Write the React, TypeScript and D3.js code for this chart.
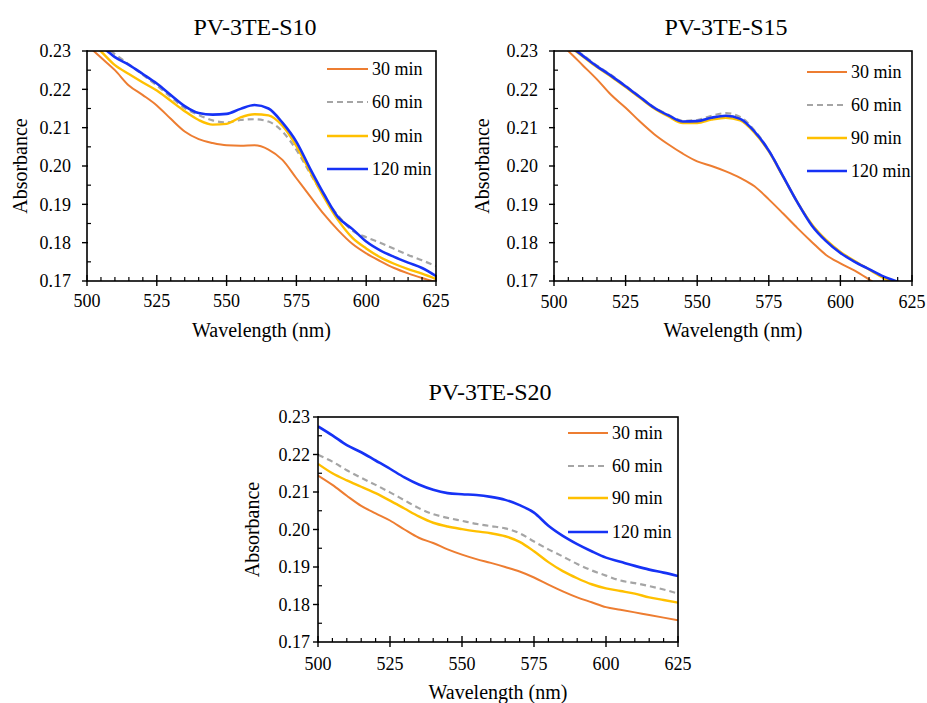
import React from "react";
import * as d3 from "d3";

const wavelengths = [500, 505, 510, 515, 520, 525, 530, 535, 540, 545, 550, 555, 560, 565, 570, 575, 580, 585, 590, 595, 600, 605, 610, 615, 620, 625];
const seriesNames = ["30 min", "60 min", "90 min", "120 min"];
const xTicks = [500, 525, 550, 575, 600, 625];
const yTicks = [0.17, 0.18, 0.19, 0.2, 0.21, 0.22, 0.23];

// PV-3TE-S10
const s10_30 = [0.2316, 0.2283, 0.225, 0.221, 0.2185, 0.2158, 0.2123, 0.209, 0.207, 0.206, 0.2054, 0.2053, 0.2054, 0.2043, 0.2016, 0.1968, 0.192, 0.1873, 0.1832, 0.1797, 0.1772, 0.1752, 0.1734, 0.172, 0.1708, 0.1697];
const s10_60 = [0.235, 0.232, 0.2292, 0.2265, 0.2238, 0.221, 0.218, 0.2151, 0.2133, 0.2119, 0.2114, 0.212, 0.2122, 0.2116, 0.209, 0.2042, 0.198, 0.192, 0.187, 0.1832, 0.1814, 0.18, 0.1784, 0.1768, 0.1754, 0.1739];
const s10_90 = [0.2335, 0.2299, 0.2263, 0.224, 0.2218, 0.2197, 0.217, 0.2143, 0.212, 0.2108, 0.211, 0.2127, 0.2135, 0.2132, 0.2105, 0.2052, 0.1984, 0.1917, 0.1858, 0.1813, 0.1785, 0.1762, 0.1745, 0.1731, 0.1719, 0.1705];
const s10_120 = [0.2345, 0.2314, 0.2284, 0.2264, 0.224, 0.2215, 0.2185, 0.2156, 0.2138, 0.2134, 0.2136, 0.2149, 0.2159, 0.215, 0.2113, 0.2063, 0.1992, 0.1925, 0.1866, 0.1836, 0.1803, 0.178, 0.1763, 0.1748, 0.1734, 0.1713];

// PV-3TE-S15
const s15_30 = [0.2335, 0.23, 0.2263, 0.2226, 0.2185, 0.2152, 0.2116, 0.2083, 0.2056, 0.2032, 0.2012, 0.2, 0.1986, 0.1969, 0.1947, 0.1913, 0.1876, 0.1838, 0.1802, 0.1768, 0.1746, 0.1727, 0.1704, 0.168, 0.166, 0.164];
const s15_60 = [0.2347, 0.2318, 0.229, 0.2262, 0.2237, 0.2209, 0.2181, 0.2153, 0.2133, 0.2118, 0.212, 0.2131, 0.2138, 0.2128, 0.2093, 0.2041, 0.1973, 0.1905, 0.1847, 0.1806, 0.1775, 0.1751, 0.1731, 0.1711, 0.1696, 0.1678];
const s15_90 = [0.2343, 0.2314, 0.2286, 0.2258, 0.2233, 0.2206, 0.2178, 0.215, 0.2129, 0.2112, 0.2112, 0.2121, 0.2126, 0.2119, 0.2087, 0.2038, 0.1972, 0.1905, 0.1848, 0.1807, 0.1776, 0.1752, 0.173, 0.1708, 0.169, 0.1672];
const s15_120 = [0.2345, 0.2316, 0.2288, 0.226, 0.2235, 0.2208, 0.218, 0.2152, 0.2132, 0.2116, 0.2117, 0.2126, 0.2131, 0.2123, 0.209, 0.204, 0.1973, 0.1905, 0.1845, 0.1804, 0.1773, 0.175, 0.1731, 0.1712, 0.1698, 0.168];

// PV-3TE-S20
const s20_30 = [0.2144, 0.2119, 0.209, 0.2063, 0.2043, 0.2024, 0.2, 0.1978, 0.1964, 0.1947, 0.1933, 0.1921, 0.1911, 0.19, 0.1888, 0.1872, 0.1853, 0.1835, 0.1819, 0.1806, 0.1793, 0.1786, 0.1779, 0.1772, 0.1765, 0.1758];
const s20_60 = [0.2199, 0.2181, 0.2158, 0.2138, 0.2119, 0.2099, 0.2078, 0.2057, 0.2041, 0.2031, 0.2023, 0.2015, 0.2009, 0.2003, 0.199, 0.1968, 0.1947, 0.1928, 0.1908, 0.1891, 0.1877, 0.1864, 0.1857, 0.1849, 0.184, 0.1829];
const s20_90 = [0.2175, 0.215, 0.2131, 0.2114, 0.2097, 0.2077, 0.2056, 0.2035, 0.2018, 0.2008, 0.2001, 0.1995, 0.199, 0.1982, 0.1967, 0.1942, 0.1913, 0.1889, 0.187, 0.1854, 0.1843, 0.1836, 0.1829, 0.1819, 0.1812, 0.1805];
const s20_120 = [0.2275, 0.2251, 0.2225, 0.2206, 0.2184, 0.2162, 0.2139, 0.212, 0.2106, 0.2097, 0.2094, 0.2092, 0.2087, 0.2079, 0.2065, 0.2045, 0.201, 0.1983, 0.1961, 0.1942, 0.1925, 0.1914, 0.1903, 0.1893, 0.1885, 0.1876];

const STYLES = [
  { color: "#ED7D31", width: 2, dash: "" },
  { color: "#A5A5A5", width: 2.2, dash: "6,4" },
  { color: "#FFC000", width: 2.4, dash: "" },
  { color: "#1632F5", width: 2.6, dash: "" },
];

const FONT = "Liberation Serif, Times New Roman, serif";
const txt = { fontFamily: FONT } as React.CSSProperties;

type Layout = {
  id: string;
  title: string;
  data: number[][];
  x0: number; x1: number; y0: number; y1: number;
  titleX: number; titleY: number;
  yLabelRight: number; yTitleX: number;
  xLabelY: number; xTitleY: number;
  legX0: number; legX1: number; legTextX: number; legRows: number[];
};

function Panel({ p }: { p: Layout }) {
  const x = d3.scaleLinear().domain([500, 625]).range([p.x0, p.x1]);
  const y = d3.scaleLinear().domain([0.17, 0.23]).range([p.y1, p.y0]);
  const line = d3
    .line<number>()
    .x((_, i) => x(wavelengths[i]))
    .y((d) => y(d))
    .curve(d3.curveMonotoneX);
  const minorX = d3.range(505, 625, 5).filter((v) => v % 25 !== 0);
  const minorY = [0.175, 0.185, 0.195, 0.205, 0.215, 0.225];
  const fmt = d3.format(".2f");
  const cx = (p.x0 + p.x1) / 2;
  const cy = (p.y0 + p.y1) / 2;
  return (
    <g fill="#000">
      <defs>
        <clipPath id={`clip-${p.id}`}>
          <rect x={p.x0} y={p.y0} width={p.x1 - p.x0} height={p.y1 - p.y0} />
        </clipPath>
      </defs>
      <text style={txt} x={p.titleX} y={p.titleY} fontSize={24} textAnchor="middle">{p.title}</text>
      <g clipPath={`url(#clip-${p.id})`}>
        {p.data.map((s, i) => (
          <path
            key={i}
            d={line(s) || ""}
            fill="none"
            stroke={STYLES[i].color}
            strokeWidth={STYLES[i].width}
            strokeDasharray={STYLES[i].dash}
          />
        ))}
      </g>
      <rect x={p.x0} y={p.y0} width={p.x1 - p.x0} height={p.y1 - p.y0} fill="none" stroke="#000" strokeWidth={1.6} />
      {yTicks.map((t) => (
        <g key={t}>
          <line x1={p.x0 - 5} x2={p.x0 + 1} y1={y(t)} y2={y(t)} stroke="#000" strokeWidth={1.4} />
          <text style={txt} x={p.yLabelRight} y={y(t)} dy="0.35em" fontSize={18} textAnchor="end">{fmt(t)}</text>
        </g>
      ))}
      {minorY.map((t) => (
        <line key={t} x1={p.x0} x2={p.x0 + 4} y1={y(t)} y2={y(t)} stroke="#000" strokeWidth={1.2} />
      ))}
      {xTicks.map((t) => (
        <g key={t}>
          <line x1={x(t)} x2={x(t)} y1={p.y1 - 6} y2={p.y1 + 5} stroke="#000" strokeWidth={1.4} />
          <text style={txt} x={x(t)} y={p.xLabelY} fontSize={18} textAnchor="middle">{t}</text>
        </g>
      ))}
      {minorX.map((t) => (
        <line key={t} x1={x(t)} x2={x(t)} y1={p.y1 - 4} y2={p.y1} stroke="#000" strokeWidth={1.2} />
      ))}
      <text style={txt} x={cx} y={p.xTitleY} fontSize={20} textAnchor="middle">Wavelength (nm)</text>
      <text style={txt} transform={`translate(${p.yTitleX},${cy}) rotate(-90)`} dy="0.35em" fontSize={20} textAnchor="middle">Absorbance</text>
      {seriesNames.map((n, i) => (
        <g key={n}>
          <line
            x1={p.legX0}
            x2={p.legX1}
            y1={p.legRows[i]}
            y2={p.legRows[i]}
            stroke={STYLES[i].color}
            strokeWidth={STYLES[i].width}
            strokeDasharray={STYLES[i].dash}
          />
          <text style={txt} x={p.legTextX} y={p.legRows[i]} dy="0.35em" fontSize={18}>{n}</text>
        </g>
      ))}
    </g>
  );
}

const panels: Layout[] = [
  {
    id: "s10", title: "PV-3TE-S10", data: [s10_30, s10_60, s10_90, s10_120],
    x0: 87, x1: 436, y0: 51, y1: 281, titleX: 255, titleY: 35,
    yLabelRight: 71, yTitleX: 20, xLabelY: 307, xTitleY: 337,
    legX0: 327, legX1: 368, legTextX: 372, legRows: [69, 102, 136, 169],
  },
  {
    id: "s15", title: "PV-3TE-S15", data: [s15_30, s15_60, s15_90, s15_120],
    x0: 554, x1: 912, y0: 51, y1: 281, titleX: 726, titleY: 35,
    yLabelRight: 538, yTitleX: 482, xLabelY: 308, xTitleY: 337,
    legX0: 807, legX1: 847, legTextX: 851, legRows: [72, 105, 138, 171],
  },
  {
    id: "s20", title: "PV-3TE-S20", data: [s20_30, s20_60, s20_90, s20_120],
    x0: 318, x1: 678, y0: 417, y1: 642, titleX: 490, titleY: 400,
    yLabelRight: 310, yTitleX: 252, xLabelY: 670, xTitleY: 699,
    legX0: 568, legX1: 608, legTextX: 612, legRows: [433, 466, 498, 532],
  },
];

export default function App() {
  return (
    <svg
      width={927}
      height={703}
      style={{ position: "absolute", left: 0, top: 0, background: "#fff" }}
    >
      <rect width={927} height={703} fill="#fff" />
      {panels.map((p) => (
        <Panel key={p.id} p={p} />
      ))}
    </svg>
  );
}
